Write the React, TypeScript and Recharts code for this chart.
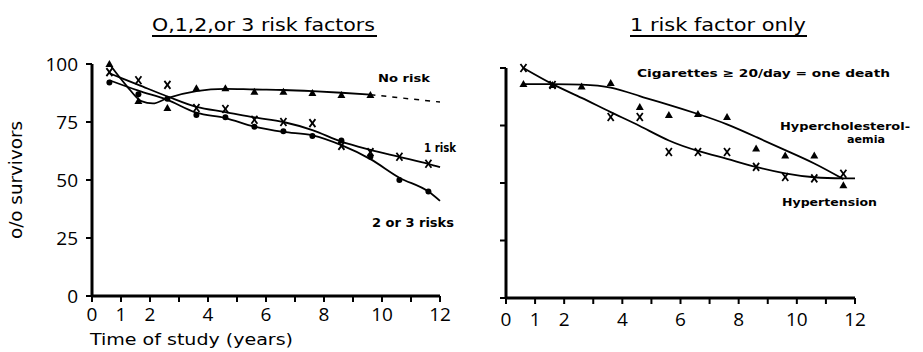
import React from 'react'
import { ComposedChart, Line, Scatter, XAxis, YAxis } from 'recharts'

// observation years (mid-year) and tick values
const obsYears = [0.6, 1.6, 2.6, 3.6, 4.6, 5.6, 6.6, 7.6, 8.6, 9.6, 10.6, 11.6]
const xTicks = [0, 1, 2, 3, 4, 5, 6, 7, 8, 9, 10, 11, 12]
const xLabelled = [0, 1, 2, 4, 6, 8, 10, 12]
const yTicks = [0, 25, 50, 75, 100]

// left panel: 0, 1, 2 or 3 risk factors (observed points)
const noRiskPts = [100, 84, 81, 89.6, 89.6, 88, 88, 87.5, 86.6, 86.6]
const oneRiskPts = [96.5, 93, 91, 81, 80.6, 76, 75, 74.5, 64.7, 62, 60, 57]
const twoThreePts = [92, 87, 85, 78, 77, 73, 71, 69, 67, 60, 50, 45]

// left panel: fitted curves
const noRiskFitX = [0.6, 1.2, 1.7, 2.1, 2.6, 3.6, 4.6, 5.6, 6.6, 7.6, 8.6, 9.6]
const noRiskFit = [100, 90.5, 84, 83, 85.3, 88.3, 89.3, 89, 88.8, 88.3, 87.6, 86.8]
const noRiskExtX = [9.6, 12]
const noRiskExt = [86.8, 83.6]
const fitX = [0.6, 1.6, 2.6, 3.6, 4.6, 5.6, 6.6, 7.6, 8.6, 9.6, 10.6, 11.6, 12]
const oneRiskFit = [96, 91, 86, 81.5, 79.3, 77, 75, 71.5, 66.5, 63, 60, 57, 55.5]
const twoThreeFit = [93, 88.5, 84.5, 79, 76.7, 73, 70.7, 69.2, 65, 59, 51, 45, 41]

// right panel: 1 risk factor only
const cholX = [0.6, 1.6, 2.6, 3.6, 4.6, 5.6, 6.6, 7.6, 8.6, 9.6, 10.6, 11.6]
const cholPts = [93, 92.6, 92, 93.5, 83, 79.6, 80, 78.7, 65, 62, 62, 49]
const tensX = [0.6, 1.6, 3.6, 4.6, 5.6, 6.6, 7.6, 8.6, 9.6, 10.6, 11.6]
const tensPts = [100, 92.6, 78.7, 78.7, 63.5, 63.5, 63.5, 57, 52.6, 52, 54]
const cholFitX = [0.6, 1.6, 2.6, 3.6, 4.6, 5.6, 6.6, 7.6, 8.6, 9.6, 10.6, 11.6]
const cholFit = [93, 93, 92.8, 91.5, 87.8, 84, 80, 75.5, 70, 64.3, 58.5, 51.7]
const tensFitX = [0.6, 1.6, 2.6, 3.6, 4.6, 5.6, 6.6, 7.6, 8.6, 9.6, 10.6, 11.6, 12]
const tensFit = [100, 93, 87, 80.8, 74.8, 68.5, 64, 60.5, 57, 54.2, 52.5, 52, 52]

const pts = (xs: number[], ys: number[]) => ys.map((y, i) => ({ x: xs[i], y }))

const Tri = (p: any) => (
  <polygon points={`${p.cx - 4},${p.cy + 3} ${p.cx + 4},${p.cy + 3} ${p.cx},${p.cy - 4}`} fill="#000" />
)
const Cross = (p: any) => (
  <g stroke="#000" strokeWidth={1.8}>
    <line x1={p.cx - 3} y1={p.cy - 4} x2={p.cx + 3} y2={p.cy + 4} />
    <line x1={p.cx + 3} y1={p.cy - 4} x2={p.cx - 3} y2={p.cy + 4} />
  </g>
)
const Dot = (p: any) => <circle cx={p.cx} cy={p.cy} r={3} fill="#000" />

const tickFont = { fontSize: 19, fill: '#000', fontFamily: 'Open Sans' }
const axisLine = { stroke: '#000', strokeWidth: 3 }
const tickLine = { stroke: '#000', strokeWidth: 2 }
const fmtX = (v: number) => (xLabelled.includes(v) ? String(v) : '')

const lineProps = { type: 'monotone' as const, stroke: '#000', strokeWidth: 1.8, dot: false, isAnimationActive: false }

export default function App() {
  return (
    <div style={{ position: 'absolute', left: 0, top: 0, width: 923, height: 352, background: '#fff' }}>
      <div style={{ position: 'absolute', left: 0, top: 0 }}>
        <ComposedChart width={460} height={352} margin={{ top: 64, right: 20, bottom: 26, left: 52 }}>
          <XAxis type="number" dataKey="x" domain={[0, 12]} ticks={xTicks} tickFormatter={fmtX}
            axisLine={axisLine} tickLine={tickLine} tickSize={6} tickMargin={6} tick={tickFont} height={30} />
          <YAxis type="number" dataKey="y" domain={[0, 100]} ticks={yTicks} width={40}
            axisLine={axisLine} tickLine={tickLine} tickSize={6} tickMargin={8} tick={tickFont} />
          <Line data={pts(noRiskFitX, noRiskFit)} dataKey="y" {...lineProps} />
          <Line data={pts(noRiskExtX, noRiskExt)} dataKey="y" {...lineProps} type="linear" strokeWidth={1.5} strokeDasharray="5 6" />
          <Line data={pts(fitX, oneRiskFit)} dataKey="y" {...lineProps} />
          <Line data={pts(fitX, twoThreeFit)} dataKey="y" {...lineProps} />
          <Scatter data={pts(obsYears, noRiskPts)} dataKey="y" shape={Tri} isAnimationActive={false} />
          <Scatter data={pts(obsYears, oneRiskPts)} dataKey="y" shape={Cross} isAnimationActive={false} />
          <Scatter data={pts(obsYears, twoThreePts)} dataKey="y" shape={Dot} isAnimationActive={false} />
        </ComposedChart>
      </div>
      <div style={{ position: 'absolute', left: 460, top: 0 }}>
        <ComposedChart width={463} height={352} margin={{ top: 68, right: 68, bottom: 24, left: 26 }}>
          <XAxis type="number" dataKey="x" domain={[0, 12]} ticks={xTicks} tickFormatter={fmtX}
            axisLine={axisLine} tickLine={tickLine} tickSize={6} tickMargin={9} tick={tickFont} height={30} />
          <YAxis type="number" dataKey="y" domain={[0, 100]} ticks={yTicks} width={20} tickFormatter={() => ''}
            axisLine={axisLine} tickLine={tickLine} tickSize={6} tick={tickFont} />
          <Line data={pts(cholFitX, cholFit)} dataKey="y" {...lineProps} type="natural" />
          <Line data={pts(tensFitX, tensFit)} dataKey="y" {...lineProps} type="natural" />
          <Scatter data={pts(cholX, cholPts)} dataKey="y" shape={Tri} isAnimationActive={false} />
          <Scatter data={pts(tensX, tensPts)} dataKey="y" shape={Cross} isAnimationActive={false} />
        </ComposedChart>
      </div>
      <svg width={923} height={352} style={{ position: 'absolute', left: 0, top: 0, pointerEvents: 'none' }}>
        <g fontFamily="DejaVu Sans" fill="#000">
          <text x={152} y={31} fontSize={18} textLength={223} lengthAdjust="spacingAndGlyphs">O,1,2,or 3 risk factors</text>
          <line x1={152} y1={36} x2={377} y2={36} stroke="#000" strokeWidth={1.8} />
          <text x={630} y={31} fontSize={18} textLength={176} lengthAdjust="spacingAndGlyphs">1 risk factor only</text>
          <line x1={630} y1={36} x2={807} y2={36} stroke="#000" strokeWidth={1.8} />
          <text transform="translate(22,180) rotate(-90)" textAnchor="middle" fontSize={18} textLength={118} lengthAdjust="spacingAndGlyphs">o/o survivors</text>
          <text x={90} y={345} fontSize={16} textLength={203} lengthAdjust="spacingAndGlyphs">Time of study  (years)</text>
        </g>
        <g fontFamily="DejaVu Sans" fontWeight="bold" fill="#000" fontSize={11}>
          <text x={378} y={82} textLength={52} lengthAdjust="spacingAndGlyphs">No risk</text>
          <text x={424} y={152} fontSize={12} textLength={32} lengthAdjust="spacingAndGlyphs">1 risk</text>
          <text x={372} y={227} fontSize={12} textLength={82} lengthAdjust="spacingAndGlyphs">2 or 3 risks</text>
          <text x={637} y={77} textLength={253} lengthAdjust="spacingAndGlyphs">Cigarettes ≥ 20/day = one death</text>
          <text x={780} y={130} textLength={130} lengthAdjust="spacingAndGlyphs">Hypercholesterol-</text>
          <text x={847} y={143} textLength={38} lengthAdjust="spacingAndGlyphs">aemia</text>
          <text x={782} y={206} textLength={95} lengthAdjust="spacingAndGlyphs">Hypertension</text>
        </g>
      </svg>
    </div>
  )
}
